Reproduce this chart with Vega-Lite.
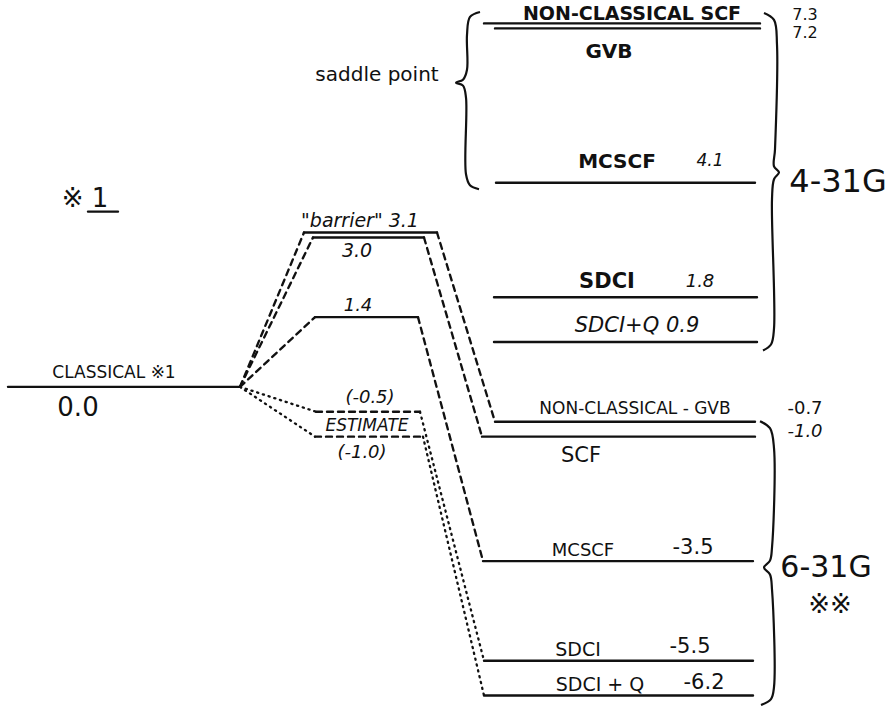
{
  "$schema": "https://vega.github.io/schema/vega-lite/v6.json",
  "width": 893,
  "height": 710,
  "padding": 0,
  "autosize": {"type": "fit", "contains": "padding"},
  "background": "white",
  "config": {"view": {"stroke": null}},
  "datasets": {
    "levels": [
      {"level": "4-31G non-classical SCF", "x1": 484, "x2": 760, "e": 7.3, "style": "solid"},
      {"level": "4-31G non-classical GVB", "x1": 495, "x2": 760, "e": 7.2, "style": "solid"},
      {"level": "4-31G MCSCF", "x1": 496, "x2": 755, "e": 4.1, "style": "solid"},
      {"level": "4-31G SDCI", "x1": 494, "x2": 757, "e": 1.8, "style": "solid"},
      {"level": "4-31G SDCI+Q", "x1": 494, "x2": 757, "e": 0.9, "style": "solid"},
      {"level": "barrier", "x1": 304, "x2": 437, "e": 3.1, "style": "solid"},
      {"level": "barrier 3.0", "x1": 313, "x2": 424, "e": 3.0, "style": "solid"},
      {"level": "1.4", "x1": 315, "x2": 418, "e": 1.4, "style": "solid"},
      {"level": "classical", "x1": 8, "x2": 240, "e": 0.0, "style": "solid"},
      {"level": "estimate -0.5", "x1": 316, "x2": 420, "e": -0.5, "style": "dashed"},
      {"level": "estimate -1.0", "x1": 315, "x2": 423, "e": -1.0, "style": "dashed"},
      {"level": "6-31G non-classical GVB", "x1": 495, "x2": 755, "e": -0.7, "style": "solid"},
      {"level": "6-31G SCF", "x1": 482, "x2": 755, "e": -1.0, "style": "solid"},
      {"level": "6-31G MCSCF", "x1": 483, "x2": 753, "e": -3.5, "style": "solid"},
      {"level": "6-31G SDCI", "x1": 484, "x2": 753, "e": -5.5, "style": "solid"},
      {"level": "6-31G SDCI+Q", "x1": 484, "x2": 753, "e": -6.2, "style": "solid"},
      {"level": "underline", "x1": 88, "x2": 118, "e": 3.52, "style": "solid"}
    ],
    "connectors": [
      {"id": "c1", "seq": 0, "x": 240, "e": 0.0, "style": "dashed"},
      {"id": "c1", "seq": 1, "x": 304, "e": 3.1, "style": "dashed"},
      {"id": "c2", "seq": 0, "x": 240, "e": 0.0, "style": "dashed"},
      {"id": "c2", "seq": 1, "x": 313, "e": 3.0, "style": "dashed"},
      {"id": "c3", "seq": 0, "x": 240, "e": 0.0, "style": "dashed"},
      {"id": "c3", "seq": 1, "x": 315, "e": 1.4, "style": "dashed"},
      {"id": "c4", "seq": 0, "x": 240, "e": 0.0, "style": "dotted"},
      {"id": "c4", "seq": 1, "x": 316, "e": -0.5, "style": "dotted"},
      {"id": "c5", "seq": 0, "x": 240, "e": 0.0, "style": "dotted"},
      {"id": "c5", "seq": 1, "x": 315, "e": -1.0, "style": "dotted"},
      {"id": "c6", "seq": 0, "x": 437, "e": 3.1, "style": "dashed"},
      {"id": "c6", "seq": 1, "x": 495, "e": -0.7, "style": "dashed"},
      {"id": "c7", "seq": 0, "x": 424, "e": 3.0, "style": "dashed"},
      {"id": "c7", "seq": 1, "x": 482, "e": -1.0, "style": "dashed"},
      {"id": "c8", "seq": 0, "x": 418, "e": 1.4, "style": "dashed"},
      {"id": "c8", "seq": 1, "x": 483, "e": -3.5, "style": "dashed"},
      {"id": "c9", "seq": 0, "x": 420, "e": -0.5, "style": "dotted"},
      {"id": "c9", "seq": 1, "x": 484, "e": -5.5, "style": "dotted"},
      {"id": "c10", "seq": 0, "x": 423, "e": -1.0, "style": "dotted"},
      {"id": "c10", "seq": 1, "x": 484, "e": -6.2, "style": "dotted"}
    ],
    "braces": [
      {"id": "saddle", "seq": 0, "x": 480, "e": 7.53},
      {"id": "saddle", "seq": 1, "x": 470, "e": 7.43},
      {"id": "saddle", "seq": 2, "x": 467, "e": 7.07},
      {"id": "saddle", "seq": 3, "x": 467, "e": 6.37},
      {"id": "saddle", "seq": 4, "x": 463, "e": 6.17},
      {"id": "saddle", "seq": 5, "x": 456, "e": 6.11},
      {"id": "saddle", "seq": 6, "x": 463, "e": 6.05},
      {"id": "saddle", "seq": 7, "x": 466, "e": 5.81},
      {"id": "saddle", "seq": 8, "x": 466, "e": 4.27},
      {"id": "saddle", "seq": 9, "x": 470, "e": 4.05},
      {"id": "saddle", "seq": 10, "x": 479, "e": 3.97},
      {"id": "b431", "seq": 0, "x": 764, "e": 7.51},
      {"id": "b431", "seq": 1, "x": 774, "e": 7.37},
      {"id": "b431", "seq": 2, "x": 777, "e": 6.87},
      {"id": "b431", "seq": 3, "x": 775, "e": 4.77},
      {"id": "b431", "seq": 4, "x": 774, "e": 4.43},
      {"id": "b431", "seq": 5, "x": 779, "e": 4.31},
      {"id": "b431", "seq": 6, "x": 774, "e": 4.17},
      {"id": "b431", "seq": 7, "x": 772, "e": 3.77},
      {"id": "b431", "seq": 8, "x": 774, "e": 1.17},
      {"id": "b431", "seq": 9, "x": 771, "e": 0.85},
      {"id": "b431", "seq": 10, "x": 763, "e": 0.73},
      {"id": "b631", "seq": 0, "x": 760, "e": -0.69},
      {"id": "b631", "seq": 1, "x": 770, "e": -0.83},
      {"id": "b631", "seq": 2, "x": 774, "e": -1.23},
      {"id": "b631", "seq": 3, "x": 772, "e": -3.23},
      {"id": "b631", "seq": 4, "x": 770, "e": -3.49},
      {"id": "b631", "seq": 5, "x": 764, "e": -3.63},
      {"id": "b631", "seq": 6, "x": 770, "e": -3.77},
      {"id": "b631", "seq": 7, "x": 772, "e": -4.07},
      {"id": "b631", "seq": 8, "x": 774, "e": -6.03},
      {"id": "b631", "seq": 9, "x": 771, "e": -6.27},
      {"id": "b631", "seq": 10, "x": 761, "e": -6.39}
    ],
    "labels": [
      {"x": 377, "e": 6.27, "text": "saddle point", "size": 20, "style": "normal"},
      {"x": 85, "e": 3.77, "text": "※ 1", "size": 26, "style": "normal"},
      {"x": 360, "e": 3.33, "text": "\"barrier\" 3.1", "size": 19, "style": "italic"},
      {"x": 357, "e": 2.73, "text": "3.0", "size": 19, "style": "italic"},
      {"x": 358, "e": 1.63, "text": "1.4", "size": 18, "style": "italic"},
      {"x": 114, "e": 0.27, "text": "CLASSICAL ※1", "size": 17, "style": "normal"},
      {"x": 78, "e": -0.43, "text": "0.0", "size": 26, "style": "normal"},
      {"x": 370, "e": -0.23, "text": "(-0.5)", "size": 18, "style": "italic"},
      {"x": 367, "e": -0.79, "text": "ESTIMATE", "size": 17, "style": "italic"},
      {"x": 362, "e": -1.33, "text": "(-1.0)", "size": 18, "style": "italic"},
      {"x": 632, "e": 7.49, "text": "NON-CLASSICAL SCF", "size": 19, "style": "bold"},
      {"x": 609, "e": 6.73, "text": "GVB", "size": 20, "style": "bold"},
      {"x": 805, "e": 7.47, "text": "7.3", "size": 16, "style": "normal"},
      {"x": 805, "e": 7.11, "text": "7.2", "size": 16, "style": "normal"},
      {"x": 617, "e": 4.51, "text": "MCSCF", "size": 20, "style": "bold"},
      {"x": 710, "e": 4.53, "text": "4.1", "size": 17, "style": "italic"},
      {"x": 838, "e": 4.11, "text": "4-31G", "size": 32, "style": "normal"},
      {"x": 607, "e": 2.11, "text": "SDCI", "size": 21, "style": "bold"},
      {"x": 700, "e": 2.11, "text": "1.8", "size": 18, "style": "italic"},
      {"x": 637, "e": 1.23, "text": "SDCI+Q  0.9", "size": 21, "style": "italic"},
      {"x": 635, "e": -0.45, "text": "NON-CLASSICAL - GVB", "size": 17, "style": "normal"},
      {"x": 805, "e": -0.45, "text": "-0.7", "size": 18, "style": "normal"},
      {"x": 805, "e": -0.91, "text": "-1.0", "size": 18, "style": "italic"},
      {"x": 581, "e": -1.39, "text": "SCF", "size": 21, "style": "normal"},
      {"x": 583, "e": -3.29, "text": "MCSCF", "size": 18, "style": "normal"},
      {"x": 693, "e": -3.23, "text": "-3.5", "size": 21, "style": "normal"},
      {"x": 826, "e": -3.63, "text": "6-31G", "size": 30, "style": "normal"},
      {"x": 830, "e": -4.39, "text": "※※", "size": 26, "style": "normal"},
      {"x": 578, "e": -5.29, "text": "SDCI", "size": 19, "style": "normal"},
      {"x": 690, "e": -5.23, "text": "-5.5", "size": 21, "style": "normal"},
      {"x": 600, "e": -5.99, "text": "SDCI + Q", "size": 19, "style": "normal"},
      {"x": 704, "e": -5.95, "text": "-6.2", "size": 21, "style": "normal"}
    ]
  },
  "resolve": {"scale": {"strokeDash": "shared", "strokeWidth": "shared"}},
  "layer": [
    {
      "data": {"name": "levels"},
      "mark": {"type": "rule", "color": "#111", "strokeCap": "round"},
      "encoding": {
        "x": {"field": "x1", "type": "quantitative", "scale": {"domain": [0, 893], "nice": false, "zero": false}, "axis": null},
        "x2": {"field": "x2"},
        "y": {"field": "e", "type": "quantitative", "scale": {"domain": [-6.43, 7.77], "nice": false, "zero": false}, "axis": null},
        "strokeDash": {"field": "style", "type": "nominal", "scale": {"domain": ["solid", "dashed", "dotted"], "range": [[1, 0], [6, 5], [1.2, 4.8]]}, "legend": null},
        "strokeWidth": {"field": "style", "type": "ordinal", "scale": {"domain": ["solid", "dashed", "dotted"], "range": [2.4, 2.3, 3.2]}, "legend": null}
      }
    },
    {
      "data": {"name": "connectors"},
      "mark": {"type": "line", "color": "#111", "strokeCap": "round"},
      "encoding": {
        "x": {"field": "x", "type": "quantitative"},
        "y": {"field": "e", "type": "quantitative"},
        "detail": {"field": "id"},
        "order": {"field": "seq"},
        "strokeDash": {"field": "style", "type": "nominal", "legend": null},
        "strokeWidth": {"field": "style", "type": "ordinal", "legend": null}
      }
    },
    {
      "data": {"name": "braces"},
      "mark": {"type": "line", "strokeWidth": 2.2, "color": "#111", "interpolate": "catmull-rom"},
      "encoding": {
        "x": {"field": "x", "type": "quantitative"},
        "y": {"field": "e", "type": "quantitative"},
        "detail": {"field": "id"},
        "order": {"field": "seq"}
      }
    },
    {
      "data": {"name": "labels"},
      "transform": [{"filter": "datum.style === 'normal'"}],
      "mark": {"type": "text", "font": "DejaVu Sans", "color": "#111", "align": "center", "baseline": "middle"},
      "encoding": {
        "x": {"field": "x", "type": "quantitative"},
        "y": {"field": "e", "type": "quantitative"},
        "text": {"field": "text"},
        "size": {"field": "size", "type": "quantitative", "scale": null}
      }
    },
    {
      "data": {"name": "labels"},
      "transform": [{"filter": "datum.style === 'italic'"}],
      "mark": {"type": "text", "font": "DejaVu Sans", "fontStyle": "italic", "color": "#111", "align": "center", "baseline": "middle"},
      "encoding": {
        "x": {"field": "x", "type": "quantitative"},
        "y": {"field": "e", "type": "quantitative"},
        "text": {"field": "text"},
        "size": {"field": "size", "type": "quantitative", "scale": null}
      }
    },
    {
      "data": {"name": "labels"},
      "transform": [{"filter": "datum.style === 'bold'"}],
      "mark": {"type": "text", "font": "DejaVu Sans", "fontWeight": "bold", "color": "#111", "align": "center", "baseline": "middle"},
      "encoding": {
        "x": {"field": "x", "type": "quantitative"},
        "y": {"field": "e", "type": "quantitative"},
        "text": {"field": "text"},
        "size": {"field": "size", "type": "quantitative", "scale": null}
      }
    }
  ]
}
